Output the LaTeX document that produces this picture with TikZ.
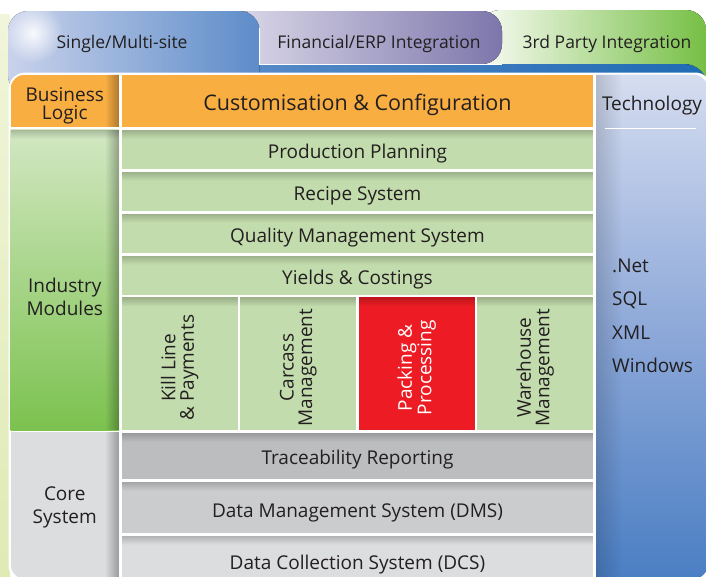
\documentclass[tikz,border=0pt]{standalone}
\usepackage{fontspec}
\setmainfont{Open Sans}
\usepackage{tikz}
\usetikzlibrary{positioning, fadings}
\usepackage{xcolor}
\definecolor{bizorange}{HTML}{F9AE42}
\definecolor{modgreen}{HTML}{C3DCAD}
\definecolor{indtop}{HTML}{D2E7C2}
\definecolor{indbottom}{HTML}{7CC24F}
\definecolor{packred}{HTML}{ED1C24}
\definecolor{tracegray}{HTML}{BCBDBF}
\definecolor{dmsgray}{HTML}{CBCCCE}
\definecolor{dcsgray}{HTML}{DCDDDF}
\definecolor{techtop}{HTML}{D5DDF0}
\definecolor{techmid}{HTML}{8EA9D9}
\definecolor{techbottom}{HTML}{4A7EC3}
\definecolor{sitelight}{HTML}{C9D2EB}
\definecolor{siteblue}{HTML}{5D8CC9}
\definecolor{erplight}{HTML}{DCDAEA}
\definecolor{erppurple}{HTML}{7D76AB}
\definecolor{partylight}{HTML}{F8FBF3}
\definecolor{partygreen}{HTML}{76BF45}
\definecolor{banddark}{HTML}{1E6BB4}
\definecolor{palestrip}{HTML}{F1F5DA}
\definecolor{palestripdark}{HTML}{DFEAB4}
\definecolor{inktext}{HTML}{231F20}

\tikzfading[name=fadetop, top color=transparent!0, bottom color=transparent!100]
\tikzfading[name=faderight, left color=transparent!100, right color=transparent!0]
\tikzfading[name=fadeleft, left color=transparent!0, right color=transparent!100]
\tikzfading[name=glow, inner color=transparent!0, outer color=transparent!100]

\begin{document}
\begin{tikzpicture}[
    x=1pt, y=-1pt,
    node distance=2.5pt,
    block/.style={rectangle, fill=#1, inner sep=0pt, outer sep=0pt,
                  minimum width=471.6pt},
    sidebox/.style={rectangle, fill=#1, inner sep=0pt, outer sep=0pt,
                    minimum width=108.5pt},
    modbox/.style={rectangle, fill=#1, inner sep=0pt, outer sep=0pt,
                   minimum width=116.1pt, minimum height=132.6pt},
    txt/.style={font=\fontsize{19}{23}\selectfont, text=inktext,
                align=center, inner sep=0pt},
    rowtxt/.style={txt, yshift=-4pt},
    vtxt/.style={font=\fontsize{19}{18.5}\selectfont, text=#1,
                 align=center, rotate=90, inner sep=0pt},
    tabtxt/.style={font=\fontsize{17.5}{20}\selectfont, text=inktext,
                   inner sep=0pt},
]
\useasboundingbox (0,0) rectangle (706,576);

% Background strip and tabs
\fill[top color=palestrip, bottom color=palestripdark] (0,14) rectangle (10,576);
\fill[left color=partylight, right color=partygreen, rounded corners=20pt]
     (480,10) rectangle (706,110);
\fill[left color=erplight, right color=erppurple, rounded corners=20pt]
     (230,11) rectangle (502,64);
\fill[left color=siteblue, right color=banddark, rounded corners=24pt]
     (200,64) rectangle (708,600);
\fill[left color=sitelight, right color=siteblue, rounded corners=20pt]
     (8,11) rectangle (259.5,95);
\fill[white, path fading=glow, opacity=0.9] (33,33) circle (30);
\draw[white, line width=1pt] (259.5,28) -- (259.5,64) -- (502,64);

\node[tabtxt] (sitetxt) at (122,44) {Single/Multi-site};
\node[tabtxt] (erptxt) at (379,44) {Financial/ERP Integration};
\node[tabtxt] (partytxt) at (607,44) {3rd Party Integration};

% Inner panel
\fill[white, rounded corners=17pt] (8.5,72.5) rectangle (712,582);

\begin{scope}
\clip[rounded corners=15pt] (10.5,74.5) rectangle (708,579);

% Left column
\node[sidebox=bizorange, minimum height=52.8pt, anchor=north west] (biz) at (10.5,74.5) {};
\node[sidebox=indbottom, top color=indtop, bottom color=indbottom,
      minimum height=300.3pt, below=2.4pt of biz] (ind) {};
\node[sidebox=dcsgray, minimum height=150pt, below=2.3pt of ind] (core) {};

% Middle column
\node[block=bizorange, minimum height=52.8pt, anchor=north west] (custom) at (121.7,74.5) {};
\node[block=modgreen, minimum height=39.4pt, below=of custom] (prod) {};
\node[block=modgreen, minimum height=39.4pt, below=of prod] (recipe) {};
\node[block=modgreen, minimum height=39.4pt, below=of recipe] (qms) {};
\node[block=modgreen, minimum height=39.4pt, below=of qms] (yields) {};

\node[modbox=modgreen, below right=2.5pt and 0pt of yields.south west] (kill) {};
\node[modbox=modgreen, right=2.4pt of kill] (carcass) {};
\node[modbox=packred, right=2.4pt of carcass] (packing) {};
\node[modbox=modgreen, right=2.4pt of packing] (warehouse) {};

\node[block=tracegray, minimum height=46pt, below right=2.5pt and 0pt of kill.south west] (trace) {};
\node[block=dmsgray, minimum height=51pt, below=3pt of trace] (dms) {};
\node[block=dcsgray, minimum height=50pt, below=3pt of dms] (dcs) {};

% Right column
\node[rectangle, top color=techtop, bottom color=techbottom, middle color=techmid,
      inner sep=0pt, outer sep=0pt, minimum width=112pt, minimum height=506pt,
      anchor=north west] (tech) at (596,74.5) {};

% Shadows
\foreach \n in {prod, recipe, qms, yields, kill, carcass, packing, warehouse, trace, dms, dcs, ind}
  \fill[black, opacity=0.2, path fading=fadetop] (\n.north west) rectangle ([yshift=-9pt]\n.north east);
\foreach \n in {biz, ind, core}
  \fill[black, opacity=0.3, path fading=faderight] ([xshift=-14pt]\n.north east) rectangle (\n.south east);
\fill[black, opacity=0.15, path fading=fadeleft] (tech.north west) rectangle ([xshift=26pt]tech.south west);
\end{scope}

% Labels
\node[txt, font=\fontsize{19}{18.5}\selectfont] at ([yshift=-5pt]biz.center) {Business\\Logic};
\node[txt] at ([yshift=-17pt]ind.center) {Industry\\Modules};
\node[txt] at (core.center) {Core\\System};

\node[rowtxt, font=\fontsize{21.5}{24}\selectfont] at (custom.center) {Customisation \& Configuration};
\node[rowtxt] at (prod.center) {Production Planning};
\node[rowtxt] at (recipe.center) {Recipe System};
\node[rowtxt] at (qms.center) {Quality Management System};
\node[rowtxt] at (yields.center) {Yields \& Costings};

\node[vtxt=inktext] at ([yshift=-4pt]kill.center) {Kill Line\\\& Payments};
\node[vtxt=inktext] at ([yshift=-4pt]carcass.center) {Carcass\\Management};
\node[vtxt=white] at ([yshift=-4pt]packing.center) {Packing \&\\Processing};
\node[vtxt=inktext] at ([yshift=-4pt]warehouse.center) {Warehouse\\Management};

\node[rowtxt] at (trace.center) {Traceability Reporting};
\node[rowtxt, yshift=-2pt] at (dms.center) {Data Management System (DMS)};
\node[rowtxt] at (dms.south |- dcs.center) {Data Collection System (DCS)};

\node[txt] (techtxt) at ([yshift=-31pt]tech.north) {Technology};
\draw[white, line width=1.5pt] ([shift={(9pt,-54pt)}]tech.north west) -- ([shift={(-12pt,-54pt)}]tech.north east);
\node[txt, anchor=base west] (net) at (612,272) {.Net};
\node[txt, anchor=base west] (sql) at (612,305.5) {SQL};
\node[txt, anchor=base west] (xml) at (612,339) {XML};
\node[txt, anchor=base west] (win) at (612,372.5) {Windows};
\end{tikzpicture}
\end{document}
